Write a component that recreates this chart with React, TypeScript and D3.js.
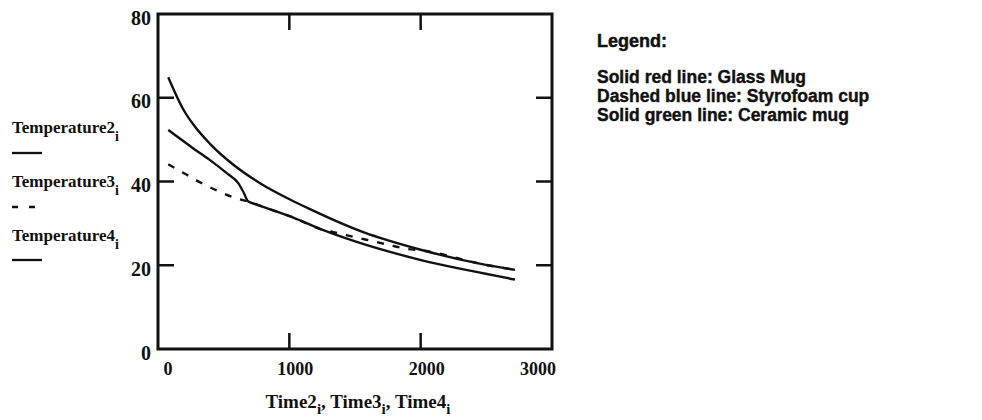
import React from "react";
import * as d3 from "d3";

// Glass mug (Temperature2) – top solid line
const time2 = [78, 193, 269, 396, 574, 777, 1005, 1157, 1563, 2000, 2477, 2718];
const temperature2 = [64.9, 57.2, 53.6, 49.0, 44.0, 39.6, 35.7, 33.4, 27.9, 23.7, 20.2, 18.9];

// Styrofoam cup (Temperature3) – dashed line
const time3 = [78, 219, 333, 459, 586, 688, 752, 904, 1030, 1259, 1335, 1487, 1627, 1767, 1894, 2020, 2477, 2718];
const temperature3 = [44.1, 41.6, 39.6, 37.7, 36.1, 35.2, 34.5, 32.8, 31.4, 28.4, 27.9, 26.8, 25.8, 24.8, 23.9, 23.5, 20.2, 18.9];

// Ceramic mug (Temperature4) – lower solid line
const time4 = [78, 269, 396, 523, 611, 650, 688, 752, 904, 1030, 1259, 1513, 1767, 1995, 2376, 2718];
const temperature4 = [52.3, 47.9, 45.1, 42.0, 39.6, 37.5, 35.2, 34.5, 32.8, 31.4, 28.4, 25.6, 23.2, 21.3, 18.7, 16.6];

const xTicks = [0, 1000, 2000, 3000];
const yTicks = [0, 20, 40, 60, 80];
const seriesNames = ["Temperature2", "Temperature3", "Temperature4"];
const xAxisNames = ["Time2", "Time3", "Time4"];
const legendTitle = "Legend:";
const legendLines = [
  "Solid red line: Glass Mug",
  "Dashed blue line: Styrofoam cup",
  "Solid green line: Ceramic mug",
];

const W = 982;
const H = 420;
const L = 158, R = 552, T = 14, B = 349;
const serif = "'Liberation Serif', 'Times New Roman', serif";
const sans = "'Liberation Sans', Arial, Helvetica, sans-serif";
const ink = "#111";

export default function App() {
  const x = d3.scaleLinear().domain([0, 3000]).range([L, R]);
  const y = d3.scaleLinear().domain([0, 80]).range([B, T]);
  const mk = (ts: number[], vs: number[]) =>
    d3
      .line<[number, number]>()
      .x((d) => x(d[0]))
      .y((d) => y(d[1]))
      .curve(d3.curveMonotoneX)(ts.map((t, i) => [t, vs[i]] as [number, number])) || "";

  const series = [
    { d: mk(time2, temperature2), dash: undefined as string | undefined },
    { d: mk(time3, temperature3), dash: "7 9" },
    { d: mk(time4, temperature4), dash: undefined as string | undefined },
  ];

  const tickLen = 16;
  const innerX = xTicks.filter((v) => v > 0 && v < 3000);
  const innerY = yTicks.filter((v) => v > 0 && v < 80);

  const legendY = [133, 187, 241];
  const legendKeyY = [153, 207, 260];

  return (
    <svg
      width={W}
      height={H}
      viewBox={`0 0 ${W} ${H}`}
      style={{ position: "absolute", left: 0, top: 0, background: "#fff" }}
    >
      <rect x={0} y={0} width={W} height={H} fill="#fff" />
      {series.map((s, i) => (
        <path
          key={i}
          d={s.d}
          fill="none"
          stroke={ink}
          strokeWidth={2.4}
          strokeDasharray={s.dash}
          strokeLinejoin="round"
        />
      ))}
      <rect x={L} y={T} width={R - L} height={B - T} fill="none" stroke={ink} strokeWidth={3} />
      {innerX.map((v) => (
        <g key={"xt" + v}>
          <line x1={x(v)} x2={x(v)} y1={B} y2={B - tickLen} stroke={ink} strokeWidth={2.5} />
          <line x1={x(v)} x2={x(v)} y1={T} y2={T + tickLen} stroke={ink} strokeWidth={2.5} />
        </g>
      ))}
      {innerY.map((v) => (
        <g key={"yt" + v}>
          <line x1={L} x2={L + tickLen} y1={y(v)} y2={y(v)} stroke={ink} strokeWidth={2.5} />
          <line x1={R} x2={R - tickLen} y1={y(v)} y2={y(v)} stroke={ink} strokeWidth={2.5} />
        </g>
      ))}
      {yTicks.map((v) => (
        <text
          key={"yl" + v}
          x={151}
          y={y(v) + 10.5}
          textAnchor="end"
          fontFamily={serif}
          fontWeight="bold"
          fontSize={20}
          fill={ink}
        >
          {d3.format("d")(v)}
        </text>
      ))}
      {xTicks.map((v) => (
        <text
          key={"xl" + v}
          x={Math.max(L + 10, Math.min(R - 14, x(v) + 6))}
          y={375}
          textAnchor="middle"
          fontFamily={serif}
          fontWeight="bold"
          fontSize={18}
          fill={ink}
        >
          {d3.format("d")(v)}
        </text>
      ))}
      <text
        x={358}
        y={408}
        textAnchor="middle"
        fontFamily={serif}
        fontWeight="bold"
        fontSize={19}
        fill={ink}
      >
        {xAxisNames.map((n, i) => (
          <React.Fragment key={n}>
            <tspan>{n}</tspan>
            <tspan dy={6} fontSize={15}>i</tspan>
            <tspan dy={-6}>{i < xAxisNames.length - 1 ? ", " : ""}</tspan>
          </React.Fragment>
        ))}
      </text>
      {seriesNames.map((n, i) => (
        <g key={n}>
          <text x={12} y={legendY[i]} fontFamily={serif} fontWeight="bold" fontSize={17} fill={ink}>
            <tspan>{n}</tspan>
            <tspan dy={8} fontSize={14}>i</tspan>
          </text>
          <line
            x1={12}
            x2={42}
            y1={legendKeyY[i]}
            y2={legendKeyY[i]}
            stroke={ink}
            strokeWidth={2.3}
            strokeDasharray={series[i].dash ? "6 11" : undefined}
          />
        </g>
      ))}
      <text x={597} y={47} fontFamily={sans} fontWeight="bold" fontSize={18} fill={ink} stroke={ink} strokeWidth={0.5}>
        {legendTitle}
      </text>
      {legendLines.map((s, i) => (
        <text
          key={s}
          x={597}
          y={83 + i * 19}
          fontFamily={sans}
          fontWeight="bold"
          fontSize={17.5}
          fill={ink}
          stroke={ink}
          strokeWidth={0.4}
        >
          {s}
        </text>
      ))}
    </svg>
  );
}
